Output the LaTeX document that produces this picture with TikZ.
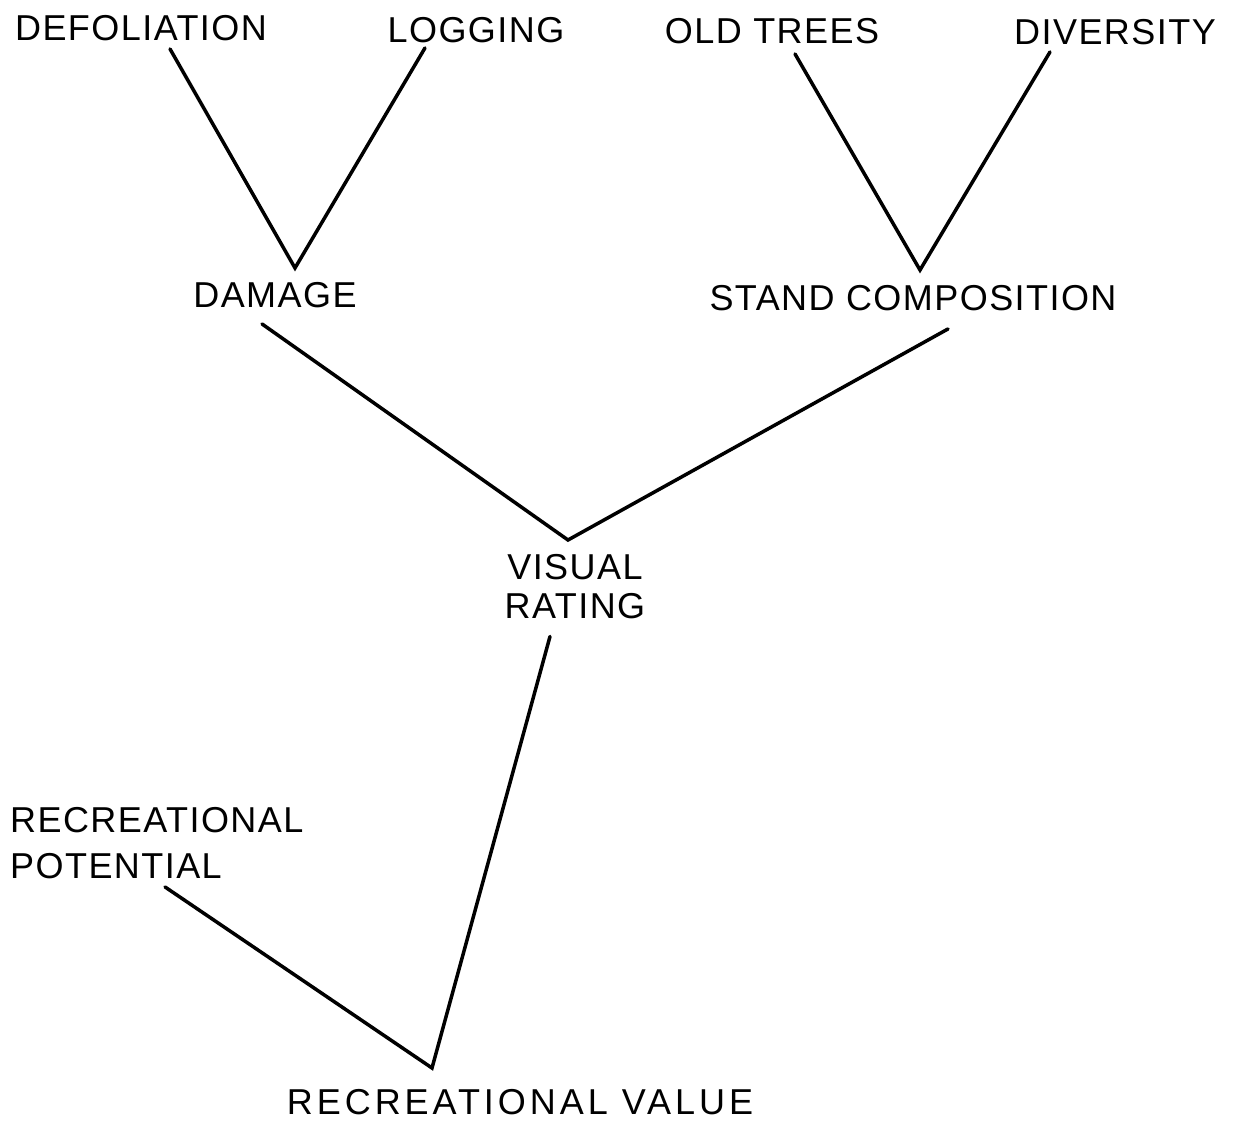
\documentclass[tikz,border=0pt]{standalone}
\usepackage{fontspec}
\setmainfont{Liberation Sans}[LetterSpace=4]
\usetikzlibrary{calc}
\tikzset{
  lbl/.style={inner sep=0pt, font=\fontsize{36}{40}\selectfont},
  conn/.style={line width=3.5pt, line cap=round, line join=miter}
}
\begin{document}
\begin{tikzpicture}[x=1pt,y=-1pt]
\useasboundingbox[fill=white] (0,0) rectangle (1238,1127);
\node[lbl] (defol) at (141,28) {DEFOLIATION};
\node[lbl] (logg) at (476,30) {LOGGING};
\node[lbl] (old) at (772,31) {OLD TREES};
\node[lbl] (div) at (1115,32) {DIVERSITY};
\node[lbl] (dam) at (275,295) {DAMAGE};
\node[lbl] (stand) at (913,298) {STAND COMPOSITION};
\node[lbl, align=center, font=\fontsize{36}{39}\selectfont] (vis) at (575,587) {VISUAL\\RATING};
\node[lbl, align=left, anchor=west, font=\fontsize{36}{46}\selectfont] (pot) at (10,843) {RECREATIONAL\\POTENTIAL};
\node[lbl, font=\fontsize{36}{40}\selectfont\addfontfeature{LetterSpace=11}] (val) at (520,1102) {RECREATIONAL VALUE};

\coordinate (v1) at (295,268);
\coordinate (v2) at (920,270);
\coordinate (v3) at (568,540);
\coordinate (v4) at (432,1068);

\draw[conn] ($(defol.south)+(29,8)$) -- (v1) -- ($(logg.south)+(-51,5)$);
\draw[conn] ($(old.south)+(23,10)$) -- (v2) -- ($(div.south)+(-65,7)$);
\draw[conn] ($(dam.south)+(-13,16)$) -- (v3) -- ($(stand.south)+(35,18)$);
\draw[conn] ($(vis.south)+(-25,17)$) -- (v4) -- ($(pot.south west)+(155,8)$);
\end{tikzpicture}
\end{document}
